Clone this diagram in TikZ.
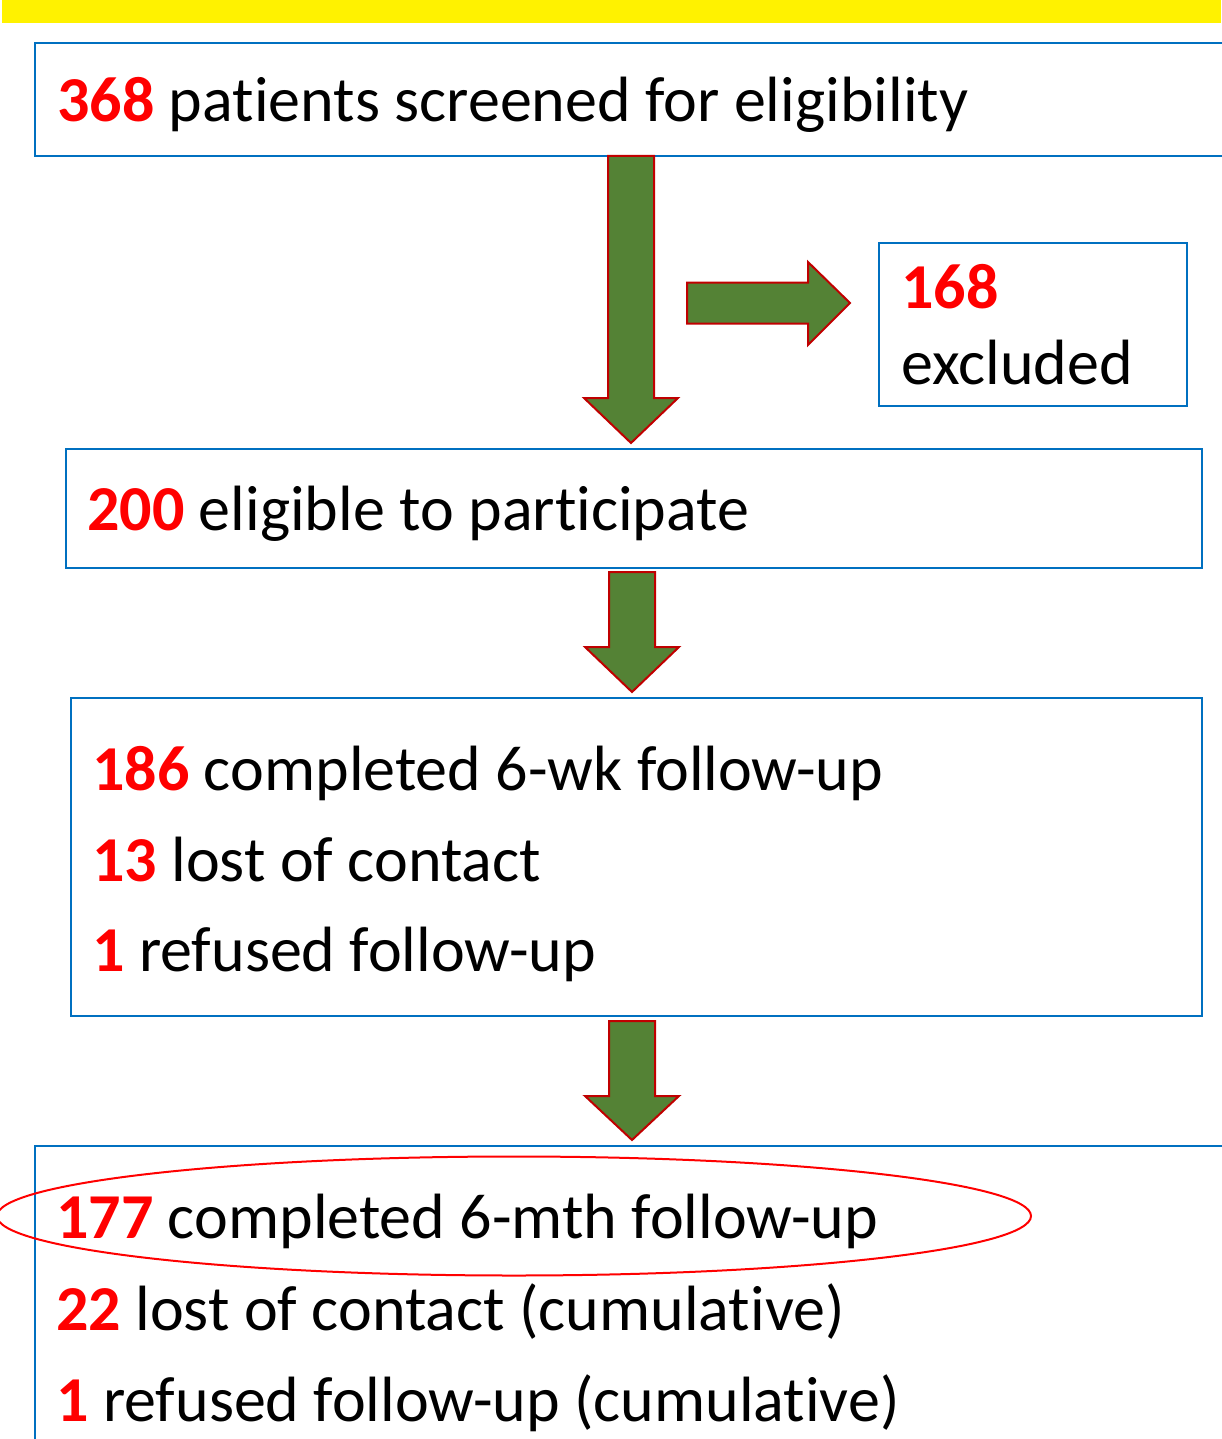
\documentclass[tikz,border=0pt]{standalone}
\usepackage{fontspec}
\setmainfont{Carlito}[Ligatures={NoCommon,TeX}]
\usetikzlibrary{shapes.geometric}
\definecolor{boxblue}{RGB}{0,112,192}
\definecolor{arrgreen}{RGB}{84,130,53}
\definecolor{arrred}{RGB}{192,0,0}
\tikzset{
  box/.style={draw=boxblue, line width=2.5pt, outer sep=0pt, inner sep=0pt, anchor=north west},
  txt/.style={anchor=base west, inner sep=0pt, font=\fontsize{64}{70}\selectfont},
  blockarrow/.style={fill=arrgreen, draw=arrred, line width=2pt, line join=miter}
}
\newcommand{\num}[1]{\textcolor{red}{\textbf{#1}}}
\newcommand{\downblock}[4]{%
  \path[blockarrow] (#1-23,#2) -- (#1+23,#2) -- (#1+23,#3) -- (#1+47,#3) -- (#1,#4) -- (#1-47,#3) -- (#1-23,#3) -- cycle;}
\begin{document}
\begin{tikzpicture}[x=1pt,y=-1pt]
\useasboundingbox (0,0) rectangle (1221,1439);
\fill[yellow] (2,0) rectangle (1221,23);
% boxes
\node[box, minimum width=1195pt, minimum height=113pt] (b1) at (35,43) {};
\node[box, minimum width=308pt, minimum height=163pt] (b2) at (879,243) {};
\node[box, minimum width=1136pt, minimum height=119pt] (b3) at (66,449) {};
\node[box, minimum width=1131pt, minimum height=318pt] (b4) at (71,698) {};
\node[box, minimum width=1195pt, minimum height=310pt] (b5) at (35,1146) {};
% arrows
\downblock{631}{156}{398}{443}
\downblock{632}{572}{647}{692}
\downblock{632}{1021}{1096}{1140}
\path[blockarrow] (687,282.5) -- (808,282.5) -- (808,262) -- (850,303) -- (808,345) -- (808,323.5) -- (687,323.5) -- cycle;
% ellipse
\node[draw=red, line width=2pt, ellipse, minimum width=1034pt, minimum height=119pt, inner sep=0pt] (ell) at (514,1216) {};
% texts
\node[txt] (t1) at (57,122) {\num{368} patients screened for eligibility};
\node[txt] (t2a) at (901,308) {\num{168}};
\node[txt] (t2b) at (901,384) {excluded};
\node[txt] (t3) at (87,530) {\num{200} eligible to participate};
\node[txt] (t4a) at (92,790) {\num{186} completed 6-wk follow-up};
\node[txt] (t4b) at (92,881) {\num{13} lost of contact};
\node[txt] (t4c) at (92,971) {\num{1} refused follow-up};
\node[txt] (t5a) at (56,1238) {\num{177} completed 6-mth follow-up};
\node[txt] (t5b) at (56,1330) {\num{22} lost of contact (cumulative)};
\node[txt] (t5c) at (56,1421) {\num{1} refused follow-up (cumulative)};
\end{tikzpicture}
\end{document}
